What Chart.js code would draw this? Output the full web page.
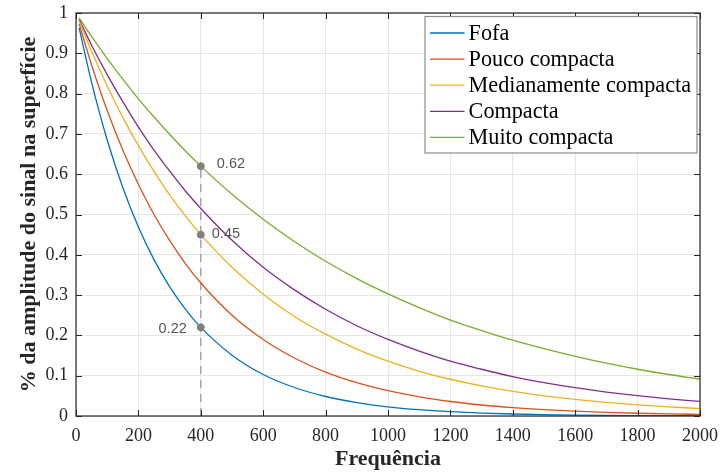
<!DOCTYPE html>
<html>
<head>
<meta charset="utf-8">
<script src="https://cdn.jsdelivr.net/npm/chart.js@4.4.1/dist/chart.umd.min.js"></script>
<style>
html,body{margin:0;padding:0;background:#fff;}
#wrap{width:721px;height:473px;position:relative;}
</style>
</head>
<body>
<div id="wrap"><canvas id="c" width="721" height="473"></canvas></div>
<script>
// ---- data ----
const freq = [10, 50, 100, 150, 200, 250, 300, 350, 400, 500, 600, 700, 800, 900, 1000, 1100, 1200, 1300, 1400, 1500, 1600, 1700, 1800, 1900, 2000];
const fofa = [0.963, 0.828, 0.685, 0.567, 0.469, 0.388, 0.321, 0.266, 0.220, 0.151, 0.103, 0.0707, 0.0484, 0.0332, 0.0227, 0.0156, 0.0107, 0.0073, 0.0050, 0.0034, 0.0023, 0.0016, 0.0011, 0.0008, 0.0005];
const poucoCompacta = [0.973, 0.871, 0.758, 0.660, 0.575, 0.500, 0.436, 0.379, 0.330, 0.250, 0.190, 0.144, 0.109, 0.0827, 0.0627, 0.0475, 0.0360, 0.0273, 0.0207, 0.0157, 0.0119, 0.0090, 0.0068, 0.0052, 0.0039];
const medianamenteCompacta = [0.980, 0.905, 0.819, 0.741, 0.671, 0.607, 0.549, 0.497, 0.450, 0.369, 0.302, 0.247, 0.203, 0.166, 0.136, 0.111, 0.0912, 0.0747, 0.0612, 0.0501, 0.0410, 0.0336, 0.0275, 0.0226, 0.0185];
const compacta = [0.984, 0.920, 0.847, 0.780, 0.717, 0.660, 0.608, 0.559, 0.515, 0.436, 0.369, 0.313, 0.265, 0.224, 0.190, 0.161, 0.136, 0.116, 0.0979, 0.0829, 0.0702, 0.0595, 0.0504, 0.0427, 0.0362];
const muitoCompacta = [0.988, 0.942, 0.887, 0.836, 0.787, 0.742, 0.699, 0.658, 0.620, 0.550, 0.488, 0.433, 0.384, 0.341, 0.303, 0.269, 0.238, 0.212, 0.188, 0.167, 0.148, 0.131, 0.116, 0.103, 0.0916];
const seriesNames = ["Fofa", "Pouco compacta", "Medianamente compacta", "Compacta", "Muito compacta"];
const markerX = 400;
const markerValues = [0.22, 0.45, 0.62];
const markerLabels = ["0.22", "0.45", "0.62"];
const xTicks = [0, 200, 400, 600, 800, 1000, 1200, 1400, 1600, 1800, 2000];
const yTicks = [0, 0.1, 0.2, 0.3, 0.4, 0.5, 0.6, 0.7, 0.8, 0.9, 1];

const colors = ["#0072BD", "#D95319", "#EDB120", "#7E2F8E", "#77AC30"];
const allSeries = [fofa, poucoCompacta, medianamenteCompacta, compacta, muitoCompacta];

const serif = "'Liberation Serif', 'Times New Roman', serif";
const sans = "'Liberation Sans', Arial, sans-serif";

const datasets = allSeries.map((s, i) => ({
  label: seriesNames[i],
  data: freq.map((f, j) => ({x: f, y: s[j]})),
  borderColor: colors[i],
  backgroundColor: colors[i],
  borderWidth: 1.3,
  pointRadius: 0,
  cubicInterpolationMode: 'monotone',
  fill: false,
  order: 2
}));
datasets.push({
  label: '',
  isAux: true,
  data: [{x: markerX, y: 0}, {x: markerX, y: Math.max(...markerValues)}],
  borderColor: '#a6a6a6',
  borderWidth: 1.5,
  borderDash: [8, 6],
  pointRadius: 0,
  fill: false,
  order: 3
});
datasets.push({
  label: '',
  isAux: true,
  data: markerValues.map(v => ({x: markerX, y: v})),
  showLine: false,
  pointRadius: 3.5,
  pointBackgroundColor: '#7f7f7f',
  pointBorderColor: '#7f7f7f',
  borderColor: '#7f7f7f',
  order: 0
});

const boxPlugin = {
  id: 'boxTicks',
  afterDatasetsDraw(chart) {
    const ctx = chart.ctx, a = chart.chartArea;
    const xs = chart.scales.x, ys = chart.scales.y;
    ctx.save();
    ctx.strokeStyle = '#262626';
    ctx.lineWidth = 1;
    const L = 6;
    ctx.beginPath();
    xTicks.forEach(t => {
      const px = Math.round(xs.getPixelForValue(t)) + 0.5;
      ctx.moveTo(px, a.bottom); ctx.lineTo(px, a.bottom - L);
      ctx.moveTo(px, a.top); ctx.lineTo(px, a.top + L);
    });
    yTicks.forEach(t => {
      const py = Math.round(ys.getPixelForValue(t)) + 0.5;
      ctx.moveTo(a.left, py); ctx.lineTo(a.left + L, py);
      ctx.moveTo(a.right, py); ctx.lineTo(a.right - L, py);
    });
    ctx.stroke();
    ctx.lineWidth = 1.2;
    ctx.strokeRect(a.left, a.top, a.right - a.left, a.bottom - a.top);
    // marker labels
    ctx.fillStyle = '#555555';
    ctx.font = '14.5px ' + sans;
    ctx.textBaseline = 'middle';
    const px = xs.getPixelForValue(markerX);
    markerValues.forEach((v, i) => {
      const py = ys.getPixelForValue(v);
      if (i === 0) {
        ctx.textAlign = 'right';
        ctx.fillText(markerLabels[i], px - 14, py + 2);
      } else if (i === 1) {
        ctx.textAlign = 'left';
        ctx.fillText(markerLabels[i], px + 11, py - 1);
      } else {
        ctx.textAlign = 'left';
        ctx.fillText(markerLabels[i], px + 16, py - 2);
      }
    });
    // legend
    ctx.font = '22.2px ' + serif;
    let maxW = 0;
    chart.data.datasets.forEach(d => { if (!d.isAux) maxW = Math.max(maxW, ctx.measureText(d.label).width); });
    const right = a.right - 3, top = a.top + 3.5;
    const left = right - (maxW + 43.6 + 6);
    const rowH = 26.1;
    const n = chart.data.datasets.filter(d => !d.isAux).length;
    const bottom = top + 5 + n * rowH + 1;
    ctx.fillStyle = '#ffffff';
    ctx.fillRect(left, top, right - left, bottom - top);
    ctx.strokeStyle = '#8c8c8c';
    ctx.lineWidth = 1.2;
    ctx.strokeRect(left, top, right - left, bottom - top);
    ctx.textAlign = 'left';
    ctx.textBaseline = 'middle';
    let i = 0;
    chart.data.datasets.forEach(d => {
      if (d.isAux) return;
      const cy = top + 16.5 + i * rowH;
      ctx.strokeStyle = d.borderColor;
      ctx.lineWidth = 1.3;
      ctx.beginPath();
      ctx.moveTo(left + 5, cy); ctx.lineTo(left + 39.5, cy);
      ctx.stroke();
      ctx.fillStyle = '#000000';
      ctx.fillText(d.label, left + 43.6, cy + 1);
      i++;
    });
    ctx.restore();
  }
};

new Chart(document.getElementById('c'), {
  type: 'line',
  data: {datasets},
  plugins: [boxPlugin],
  options: {
    responsive: false,
    animation: false,
    events: [],
    layout: {padding: {left: 0, top: 13, right: 21, bottom: 0}},
    plugins: {legend: {display: false}, tooltip: {enabled: false}},
    scales: {
      x: {
        type: 'linear', min: 0, max: 2000,
        afterBuildTicks(s) { s.ticks = xTicks.map(v => ({value: v})); },
        afterFit(s) { s.height = 57; s.paddingLeft = 0; s.paddingRight = 0; },
        grid: {color: '#e6e6e6', lineWidth: 1, drawTicks: false},
        border: {display: false},
        ticks: {font: {family: serif, size: 18}, color: '#262626', padding: 9, maxRotation: 0,
          callback: v => String(v)},
        title: {display: true, text: 'Frequência', font: {family: serif, size: 22, weight: 'bold'}, color: '#262626', padding: {top: 0, bottom: 0}}
      },
      y: {
        type: 'linear', min: 0, max: 1,
        afterBuildTicks(s) { s.ticks = yTicks.map(v => ({value: v})); },
        afterFit(s) { s.width = 76; s.paddingTop = 0; s.paddingBottom = 0; },
        grid: {color: '#e6e6e6', lineWidth: 1, drawTicks: false},
        border: {display: false},
        ticks: {font: {family: serif, size: 18}, color: '#262626', padding: 8,
          callback: v => String(Math.round(v * 10) / 10)},
        title: {display: true, text: '% da amplitude do sinal na superfície', font: {family: serif, size: 22, weight: 'bold'}, color: '#262626', padding: {top: 16, bottom: 0}}
      }
    }
  }
});
</script>
</body>
</html>
